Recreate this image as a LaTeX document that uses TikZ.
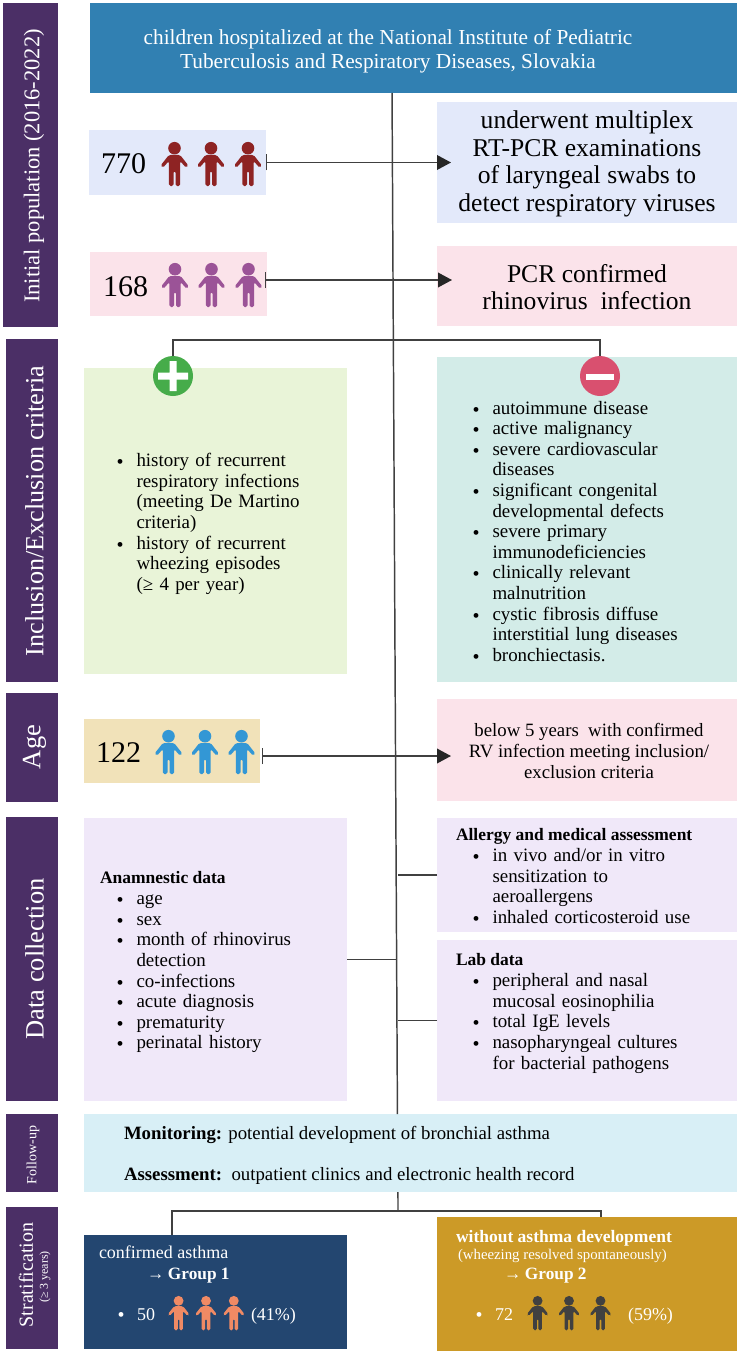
\documentclass[tikz,border=0pt]{standalone}
\usepackage{fontspec}
\setmainfont{Liberation Serif}
\usetikzlibrary{fit,arrows.meta,calc}
\definecolor{barpurple}{HTML}{4B2F66}
\definecolor{topblue}{HTML}{3180B2}
\definecolor{paleblue}{HTML}{E3E9FA}
\definecolor{palepink}{HTML}{FBE3EA}
\definecolor{palegreen}{HTML}{E9F4D8}
\definecolor{paleteal}{HTML}{D3ECE8}
\definecolor{palesand}{HTML}{F1E2B9}
\definecolor{palelilac}{HTML}{F0E8F9}
\definecolor{palesky}{HTML}{D8EFF6}
\definecolor{navybox}{HTML}{234670}
\definecolor{goldbox}{HTML}{CC9A27}
\definecolor{wire}{HTML}{404040}
\definecolor{pdark}{HTML}{8E2323}
\definecolor{pmauve}{HTML}{9B5397}
\definecolor{pblue}{HTML}{3397D5}
\definecolor{pcoral}{HTML}{F08A64}
\definecolor{signgreen}{HTML}{46AC4A}
\definecolor{signred}{HTML}{D9506F}
\newcommand\fs[1]{\pgfmathsetmacro\fsa{#1*0.75}\pgfmathsetmacro\fsb{#1*0.9}\fontsize{\fsa}{\fsb}\selectfont}
\newcommand\person[4]{\begin{scope}[shift={(#1,#2)},scale=#4]
\fill[#3] (0,6.2) circle [radius=6.3];
\fill[#3,rounded corners=1.2pt] (-5.6,13) -- (-13.9,23.5) -- (-11.6,25.8) -- (-5.6,19) -- (-5.6,44) -- (-1,44) -- (-1,29) -- (1,29) -- (1,44) -- (5.6,44) -- (5.6,19) -- (11.6,25.8) -- (13.9,23.5) -- (5.6,13) -- cycle;
\end{scope}}
\newcommand\trio[6]{\person{#1}{#4}{#5}{#6}\person{#2}{#4}{#5}{#6}\person{#3}{#4}{#5}{#6}}
\newenvironment{blist}{\begin{list}{\rlap{\fontsize{15}{15}\selectfont\raisebox{-1.5pt}{\textbullet}}\hfill}{\setlength\leftmargin{15pt}\setlength\labelwidth{15pt}\setlength\labelsep{0pt}\setlength\itemsep{0pt}\setlength\topsep{0pt}\setlength\parsep{0pt}\setlength\partopsep{0pt}\setlength\itemindent{0pt}\setlength\rightmargin{0pt}}}{\end{list}}
\tikzset{
  block/.style={inner sep=0pt,outer sep=0pt,draw=none},
  sidelabel/.style={rotate=90,text=white,inner sep=0pt,align=center},
  txt/.style={inner sep=0pt,outer sep=0pt,anchor=base west},
  ctr/.style={inner sep=0pt,outer sep=0pt,align=center},
  listtxt/.style={inner sep=0pt,outer sep=0pt,anchor=north west,text width=240pt,font=\fontsize{14.2}{15.45}\selectfont},
  headtxt/.style={txt,font=\fontsize{13.1}{15}\bfseries\selectfont},
  wireline/.style={draw=wire,line width=1.1pt},
  bararrow/.style={wireline,{Bar[width=12pt,line width=1pt]}-{Triangle[length=10.5pt,width=11pt,color=black!85]}},
  sign/.style={circle,minimum size=30pt,inner sep=0pt,outer sep=0pt}
}
\begin{document}
\begin{tikzpicture}[x=0.75pt,y=-0.75pt]
\useasboundingbox (0,0) rectangle (741,1352);
% side bars
\node[block,fill=barpurple,fit={(3,3)(58,327)}] (s1) {};
\node[block,fill=barpurple,fit={(6,339)(58,682)}] (s2) {};
\node[block,fill=barpurple,fit={(6,693)(58,802)}] (s3) {};
\node[block,fill=barpurple,fit={(6,817)(58,1101)}] (s4) {};
\node[block,fill=barpurple,fit={(6,1114)(58,1192)}] (s5) {};
\node[block,fill=barpurple,fit={(6,1207)(58,1349)}] (s6) {};
\node[sidelabel,font=\fs{22.5}] (s1t) at (34,166) {Initial population (2016-2022)};
\node[sidelabel,font=\fs{26.2}] (s2t) at (34.5,511) {Inclusion/Exclusion criteria};
\node[sidelabel,font=\fs{26.5}] (s3t) at (34.5,747) {Age};
\node[sidelabel,font=\fs{26.5}] (s4t) at (34.5,959) {Data collection};
\node[sidelabel,font=\fs{14}] (s5t) at (33,1155) {Follow-up};
\node[sidelabel,font=\fs{20}] (s6t) at (26,1275) {Stratification};
\node[sidelabel,font=\fs{12}] (s6u) at (45,1277) {(≥ 3 years)};
% boxes
\node[block,fill=topblue,fit={(90,3)(737,93)}] (top) {};
\node[block,fill=paleblue,fit={(89,130)(266,195)}] (n770) {};
\node[block,fill=paleblue,fit={(437,102)(737,223)}] (r770) {};
\node[block,fill=palepink,fit={(90,252)(267,316)}] (n168) {};
\node[block,fill=palepink,fit={(437,246)(737,326)}] (r168) {};
\node[block,fill=palegreen,fit={(84,368)(347,674)}] (incl) {};
\node[block,fill=paleteal,fit={(437,357)(737,682)}] (excl) {};
\node[block,fill=palesand,fit={(84,719)(260,783)}] (n122) {};
\node[block,fill=palepink,fit={(437,699)(737,801)}] (r122) {};
\node[block,fill=palelilac,fit={(84,818)(347,1101)}] (dl) {};
\node[block,fill=palelilac,fit={(437,818)(737,932)}] (da) {};
\node[block,fill=palelilac,fit={(437,940)(737,1101)}] (db) {};
\node[block,fill=palesky,fit={(84,1114)(737,1192)}] (fu) {};
\node[block,fill=navybox,fit={(84,1235)(347,1349)}] (g1) {};
\node[block,fill=goldbox,fit={(437,1217)(737,1351)}] (g2) {};
% connectors
\draw[wireline] ([xshift=-16.1pt]top.south) -- ([xshift=-9.8pt]fu.north);
\draw[bararrow] (n770.east) -- ([xshift=10.5pt]r770.west);
\draw[bararrow] ([shift={(-2,-4)}]n168.east) -- ([shift={(15,-6)}]r168.west);
\draw[bararrow] ([shift={(2,5)}]n122.east) -- ([shift={(14,6)}]r122.west);
\draw[wireline] (dl.east) -- ++(50,0);
\draw[wireline] (da.west) -- ++(-39,0);
\draw[wireline] (db.west) -- ++(-39,0);
\coordinate (fork) at (398,1211);
\draw[wireline] ([xshift=-9.4pt]fu.south) -- (fork);
\draw[wireline] ([xshift=-32.6pt]g1.north) |- (fork);
\draw[wireline] ([xshift=10.5pt]g2.north) |- (fork);
% signs
\node[sign,fill=signgreen] (plus) at (173,376) {};
\node[sign,fill=signred] (minus) at (600,376) {};
\draw[wireline] (plus.north) -- ++(0,-16) -| (minus.north);
\fill[white] (158,372.5) rectangle (188,379.5) (169.5,361) rectangle (176.5,391);
\fill[white] (586,374) rectangle (614,380);
% title
\node[ctr,text=white,font=\fontsize{16}{18}\selectfont] (tt) at (388,51) {children hospitalized at the National Institute of Pediatric\\Tuberculosis and Respiratory Diseases, Slovakia};
% counts
\node[txt,font=\fs{30}] (c770) at (101,174) {770};
\trio{174.5}{211}{248}{142}{pdark}{1}
\node[txt,font=\fs{30}] (c168) at (103,296) {168};
\trio{175}{211.5}{248.5}{263}{pmauve}{1}
\node[txt,font=\fs{30}] (c122) at (96,762) {122};
\trio{168.5}{205}{241.5}{730}{pblue}{1}
% right text
\node[ctr,font=\fontsize{19.2}{20.6}\selectfont] (t770) at (587,164) {underwent multiplex\\RT-PCR examinations\\of laryngeal swabs to\\detect respiratory viruses};
\node[ctr,font=\fontsize{19.2}{20.8}\selectfont] (t168) at (587,287) {PCR confirmed\\rhinovirus\ \ infection};
\node[ctr,font=\fontsize{14.1}{15.6}\selectfont] (t122) at (589,751) {below 5 years\ \ with confirmed\\RV infection meeting inclusion/\\exclusion criteria};
% inclusion
\node[listtxt] (linc) at (116.5,446) {\begin{blist}
\item history of recurrent\\respiratory infections\\(meeting De Martino\\criteria)
\item history of recurrent\\wheezing episodes\\(≥ 4 per year)
\end{blist}};
\node[listtxt] (lexc) at (472.5,393.5) {\begin{blist}
\item autoimmune disease
\item active malignancy
\item severe cardiovascular\\diseases
\item significant congenital\\developmental defects
\item severe primary\\immunodeficiencies
\item clinically relevant\\malnutrition
\item cystic fibrosis diffuse\\interstitial lung diseases
\item bronchiectasis.
\end{blist}};
% data
\node[headtxt] (hd1) at (100,883) {Anamnestic data};
\node[listtxt] (ld1) at (116.5,884) {\begin{blist}
\item age
\item sex
\item month of rhinovirus\\detection
\item co-infections
\item acute diagnosis
\item prematurity
\item perinatal history
\end{blist}};
\node[headtxt] (hd2) at (456,840) {Allergy and medical assessment};
\node[listtxt] (ld2) at (472.5,841) {\begin{blist}
\item in vivo and/or in vitro\\sensitization to\\aeroallergens
\item inhaled corticosteroid use
\end{blist}};
\node[headtxt] (hd3) at (456,965) {Lab data};
\node[listtxt] (ld3) at (472.5,966) {\begin{blist}
\item peripheral and nasal\\mucosal eosinophilia
\item total IgE levels
\item nasopharyngeal cultures\\for bacterial pathogens
\end{blist}};
% follow up
\node[txt,font=\fontsize{14.1}{15}\selectfont] (mon) at (124,1139) {\textbf{Monitoring:} potential development of bronchial asthma};
\node[txt,font=\fontsize{14.1}{15}\selectfont] (ass) at (124,1180) {\textbf{Assessment:}\ \ outpatient clinics and electronic health record};
% groups
\node[txt,text=white,font=\fs{18}] (g1a) at (99,1258) {confirmed asthma};
\node[txt,text=white,font=\fs{17.3}\bfseries] (g1b) at (147,1279) {→\kern-0.5pt\ Group 1};
\node[txt,text=white,font=\fs{20}] (g1c) at (117.5,1321.5) {\textbullet};
\node[txt,text=white,font=\fs{18}] (g1n) at (137,1320) {50};
\trio{178.6}{206}{233.8}{1296}{pcoral}{0.78}
\node[txt,text=white,font=\fs{18}] (g1d) at (251,1320) {(41\%)};
\node[txt,text=white,font=\fs{17.5}\bfseries] (g2a) at (456,1242) {without asthma development};
\node[txt,text=white,font=\fs{14.8}] (g2b) at (458,1259) {(wheezing resolved spontaneously)};
\node[txt,text=white,font=\fs{17.3}\bfseries] (g2c) at (504,1279) {→\kern-0.5pt\ Group 2};
\node[txt,text=white,font=\fs{20}] (g2d) at (475.5,1321.5) {\textbullet};
\node[txt,text=white,font=\fs{18}] (g2n) at (495,1320) {72};
\trio{537.6}{569}{600.5}{1296}{wire}{0.78}
\node[txt,text=white,font=\fs{18}] (g2e) at (628,1320) {(59\%)};
\end{tikzpicture}
\end{document}
